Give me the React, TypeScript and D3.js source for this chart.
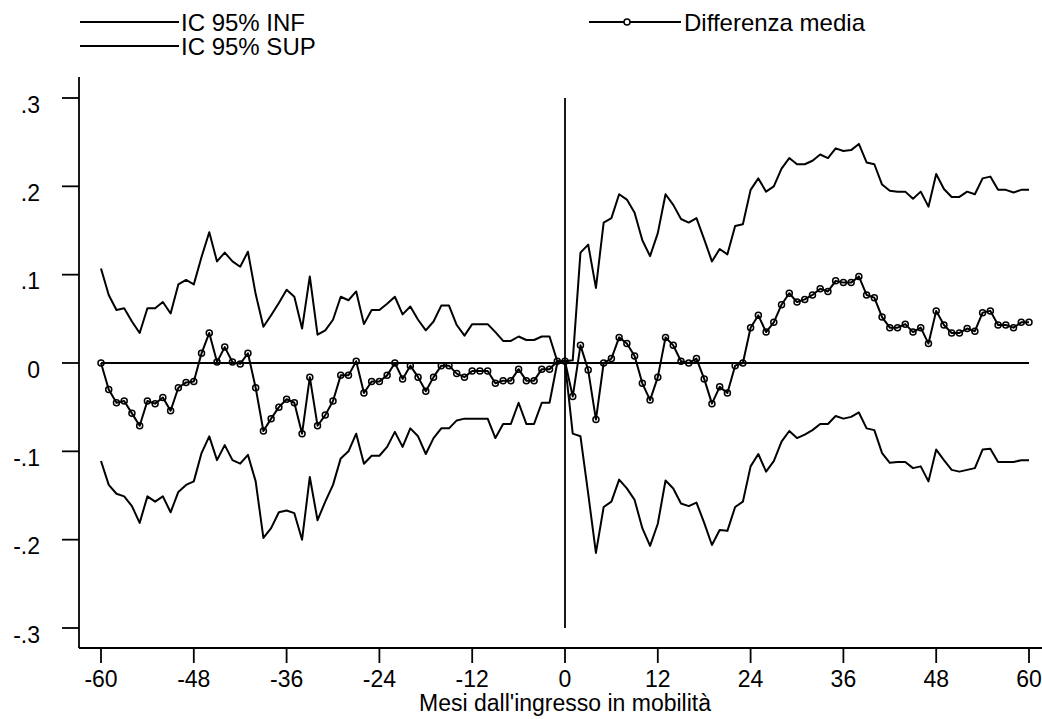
import React from "react";
import * as d3 from "d3";

const months: number[] = d3.range(-60, 61);

const meanDiff: number[] = [
  0, -0.030, -0.045, -0.043, -0.057, -0.071, -0.043, -0.046, -0.039, -0.054,
  -0.028, -0.022, -0.021, 0.011, 0.034, 0.001, 0.018, 0.001, -0.001, 0.011,
  -0.028, -0.077, -0.063, -0.050, -0.041, -0.045, -0.080, -0.016, -0.071, -0.059,
  -0.043, -0.014, -0.014, 0.002, -0.034, -0.021, -0.021, -0.014, 0.000, -0.018,
  -0.003, -0.016, -0.032, -0.016, -0.003, -0.003, -0.012, -0.016, -0.009, -0.009,
  -0.009, -0.023, -0.020, -0.020, -0.007, -0.020, -0.020, -0.007, -0.007, 0.002,
  0.002,
  -0.038, 0.020, -0.008, -0.064, 0.000, 0.005, 0.029, 0.022, 0.008, -0.023,
  -0.042, -0.016, 0.029, 0.020, 0.002, 0.000, 0.005, -0.018, -0.046, -0.027,
  -0.034, -0.003, 0.000, 0.040, 0.054, 0.035, 0.046, 0.066, 0.079, 0.069,
  0.072, 0.077, 0.084, 0.081, 0.093, 0.091, 0.091, 0.098, 0.077, 0.074,
  0.052, 0.040, 0.040, 0.044, 0.035, 0.040, 0.022, 0.059, 0.043, 0.034,
  0.034, 0.039, 0.036, 0.057, 0.059, 0.043, 0.043, 0.040, 0.046, 0.046,
];

const ciSup: number[] = [
  0.107, 0.077, 0.060, 0.062, 0.047, 0.034, 0.062, 0.062, 0.069, 0.056,
  0.089, 0.094, 0.089, 0.120, 0.148, 0.115, 0.125, 0.115, 0.109, 0.126,
  0.078, 0.041, 0.054, 0.068, 0.083, 0.075, 0.039, 0.098, 0.032, 0.037,
  0.049, 0.075, 0.071, 0.081, 0.044, 0.060, 0.060, 0.067, 0.075, 0.055,
  0.064, 0.049, 0.037, 0.047, 0.065, 0.065, 0.043, 0.031, 0.044, 0.044,
  0.044, 0.035, 0.025, 0.025, 0.030, 0.026, 0.026, 0.030, 0.030, 0.002,
  0.002,
  0.003, 0.125, 0.134, 0.085, 0.159, 0.164, 0.191, 0.185, 0.170, 0.139,
  0.121, 0.147, 0.191, 0.179, 0.163, 0.159, 0.164, 0.140, 0.115, 0.129,
  0.123, 0.155, 0.157, 0.196, 0.209, 0.194, 0.200, 0.220, 0.232, 0.225,
  0.225, 0.229, 0.236, 0.232, 0.243, 0.240, 0.241, 0.248, 0.227, 0.225,
  0.202, 0.195, 0.194, 0.194, 0.186, 0.194, 0.177, 0.214, 0.197, 0.188,
  0.188, 0.194, 0.191, 0.209, 0.211, 0.196, 0.196, 0.193, 0.196, 0.196,
];

const ciInf: number[] = [
  -0.111, -0.138, -0.148, -0.151, -0.162, -0.181, -0.151, -0.157, -0.151, -0.169,
  -0.146, -0.138, -0.134, -0.102, -0.083, -0.110, -0.093, -0.110, -0.114, -0.104,
  -0.134, -0.198, -0.187, -0.169, -0.167, -0.170, -0.200, -0.129, -0.178, -0.157,
  -0.138, -0.108, -0.100, -0.080, -0.114, -0.105, -0.105, -0.095, -0.078, -0.095,
  -0.074, -0.083, -0.103, -0.085, -0.074, -0.074, -0.065, -0.063, -0.063, -0.063,
  -0.063, -0.085, -0.069, -0.069, -0.045, -0.069, -0.069, -0.045, -0.045, 0.000,
  0.000,
  -0.080, -0.083, -0.148, -0.215, -0.163, -0.157, -0.132, -0.142, -0.155, -0.187,
  -0.207, -0.182, -0.133, -0.142, -0.159, -0.162, -0.158, -0.181, -0.206, -0.189,
  -0.190, -0.163, -0.157, -0.117, -0.103, -0.123, -0.111, -0.089, -0.077, -0.085,
  -0.081, -0.076, -0.069, -0.069, -0.060, -0.063, -0.061, -0.056, -0.074, -0.076,
  -0.102, -0.113, -0.112, -0.112, -0.119, -0.117, -0.134, -0.098, -0.110, -0.121,
  -0.123, -0.121, -0.119, -0.098, -0.097, -0.112, -0.112, -0.112, -0.110, -0.110,
];

const xTicks: number[] = [-60, -48, -36, -24, -12, 0, 12, 24, 36, 48, 60];
const yTicks: number[] = [0.3, 0.2, 0.1, 0, -0.1, -0.2, -0.3];
const yTickLabels: string[] = [".3", ".2", ".1", "0", "-.1", "-.2", "-.3"];
const legendLabels: string[] = ["IC 95% INF", "IC 95% SUP", "Differenza media"];
const xTitle = "Mesi dall'ingresso in mobilità";

const FONT = "'Liberation Sans', Arial, sans-serif";

export default function App() {
  const W = 1042;
  const H = 719;
  const x = d3.scaleLinear().domain([-60, 60]).range([101, 1029]);
  const y = d3.scaleLinear().domain([-0.3, 0.3]).range([628, 98]);

  const mk = (vals: number[]) =>
    d3
      .line<number>()
      .x((_, i) => x(months[i]))
      .y((v) => y(v))(vals) as string;

  const axisLeft = 79;
  const axisBottom = 648;

  return (
    <svg
      width={W}
      height={H}
      style={{ position: "absolute", left: 0, top: 0, background: "#fff" }}
      fontFamily={FONT}
    >
      <rect x={0} y={0} width={W} height={H} fill="#fff" />
      {/* legend */}
      <g stroke="#000" strokeWidth={1.8} fill="none">
        <line x1={80} x2={179} y1={22} y2={22} />
        <line x1={80} x2={179} y1={46} y2={46} />
        <line x1={589} x2={681} y1={22} y2={22} />
        <circle cx={627} cy={22} r={3} fill="#fff" strokeWidth={1.5} />
      </g>
      <g fontSize={24} fill="#000">
        <text x={181} y={30.5}>{legendLabels[0]}</text>
        <text x={181} y={54.5}>{legendLabels[1]}</text>
        <text x={684} y={30.5}>{legendLabels[2]}</text>
      </g>

      {/* axes */}
      <g stroke="#000" strokeWidth={1.8}>
        <line x1={axisLeft} x2={axisLeft} y1={77} y2={axisBottom} />
        <line x1={axisLeft} x2={W} y1={axisBottom} y2={axisBottom} />
        {yTicks.map((t) => (
          <line key={"yt" + t} x1={62} x2={axisLeft} y1={y(t)} y2={y(t)} />
        ))}
        {xTicks.map((t) => (
          <line key={"xt" + t} x1={x(t)} x2={x(t)} y1={axisBottom} y2={663} />
        ))}
      </g>
      <g fontSize={23} fill="#000">
        {yTicks.map((t, i) => (
          <text key={"yl" + t} x={40} y={y(t) + 14.5} textAnchor="end">
            {yTickLabels[i]}
          </text>
        ))}
        {xTicks.map((t) => (
          <text key={"xl" + t} x={x(t)} y={687} textAnchor="middle">
            {String(t)}
          </text>
        ))}
        <text x={x(0)} y={711} textAnchor="middle">{xTitle}</text>
      </g>

      {/* reference lines */}
      <g stroke="#000" strokeWidth={1.8}>
        <line x1={x(-60)} x2={x(60)} y1={y(0)} y2={y(0)} />
        <line x1={x(0)} x2={x(0)} y1={y(0.3)} y2={y(-0.3)} />
      </g>

      {/* series */}
      <g fill="none" stroke="#000" strokeWidth={2} strokeLinejoin="round">
        <path d={mk(ciSup)} />
        <path d={mk(ciInf)} />
        <path d={mk(meanDiff)} />
      </g>
      <g fill="none" stroke="#000" strokeWidth={1.5}>
        {meanDiff.map((v, i) => (
          <circle key={"c" + i} cx={x(months[i])} cy={y(v)} r={3} />
        ))}
      </g>
    </svg>
  );
}
